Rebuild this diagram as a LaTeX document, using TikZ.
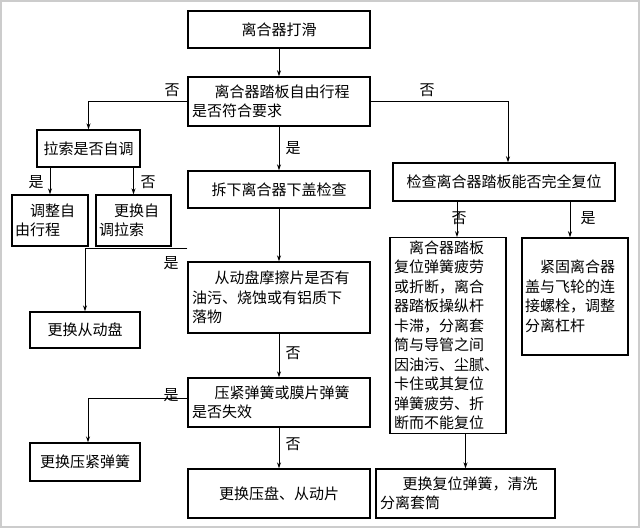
\documentclass[tikz,border=0pt]{standalone}
\usepackage{fontspec}
\setmainfont{Noto Sans CJK SC}
\usetikzlibrary{arrows.meta,positioning,calc}
\tikzset{
  box/.style={draw,line width=1.4pt,inner sep=3pt,font=\fontsize{15}{19.5}\selectfont},
  lbl/.style={font=\fontsize{15}{18}\selectfont,inner sep=1pt},
  flow/.style={line width=1pt,-{Stealth[length=6pt,width=4pt]}}
}
\begin{document}
\begin{tikzpicture}[x=1pt,y=-1pt]
    \useasboundingbox (0,0) rectangle (640,528);
    \draw[gray!40,line width=1.5pt] (1,1) rectangle (639,527);

    % Colonna centrale
    \node[box,minimum width=182pt,minimum height=37pt] (top) at (279,29.5) {离合器打滑};
    \node[box,minimum width=182pt,minimum height=49pt,text width=174pt,align=left] (q1) at (279,101.5)
        {\hspace*{1.5em}离合器踏板自由行程\\是否符合要求};
    \node[box,minimum width=182pt,minimum height=37pt] (chai) at (279,189.5) {拆下离合器下盖检查};
    \node[box,minimum width=182pt,minimum height=71pt,text width=174pt,align=left] (dirt) at (279,297.5)
        {\hspace*{1.5em}从动盘摩擦片是否有\\油污、烧蚀或有铝质下\\落物};
    \node[box,minimum width=182pt,minimum height=49pt,text width=174pt,align=left] (spring) at (279,402.5)
        {\hspace*{1.5em}压紧弹簧或膜片弹簧\\是否失效};
    \node[box,minimum width=182pt,minimum height=49pt] (plate) at (279,493.5) {更换压盘、从动片};

    % Colonna sinistra
    \node[box,minimum width=103pt,minimum height=37pt] (lasuo) at (88.5,148.5) {拉索是否自调};
    \node[box,minimum width=76pt,minimum height=51pt,text width=70pt,align=left] (adj) at (50,220.5)
        {\hspace*{1em}调整自\\由行程};
    \node[box,minimum width=75pt,minimum height=51pt,text width=69pt,align=left] (selfrep) at (133.5,220.5)
        {\hspace*{1em}更换自\\调拉索};
    \node[box,minimum width=110pt,minimum height=36pt] (repdisc) at (85,330) {更换从动盘};
    \node[box,minimum width=110pt,minimum height=38pt] (repspring) at (85,462) {更换压紧弹簧};

    % Colonna destra
    \node[box,minimum width=222pt,minimum height=38pt] (check) at (504,182) {检查离合器踏板能否完全复位};
    \node[box,minimum width=116pt,minimum height=195pt,text width=108pt,align=left] (cause) at (448,335.5)
        {\hspace*{1em}离合器踏板\\复位弹簧疲劳\\或折断，离合\\器踏板操纵杆\\卡滞，分离套\\筒与导管之间\\因油污、尘腻、\\卡住或其复位\\弹簧疲劳、折\\断而不能复位};
    \node[box,minimum width=106pt,minimum height=117pt,text width=100pt,align=left] (fasten) at (575,296.5)
        {\hspace*{1em}紧固离合器\\盖与飞轮的连\\接螺栓，调整\\分离杠杆};
    \node[box,minimum width=179pt,minimum height=49pt,text width=171pt,align=left] (resetsp) at (465.5,493.5)
        {\hspace*{1.5em}更换复位弹簧，清洗\\分离套筒};

    % Connettori
    \draw[flow] (top) -- (q1);
    \draw[flow] (q1.west) -| (lasuo.north);
    \draw[flow] (q1.east) -| ([xshift=4pt]check.north);
    \draw[flow] (q1) -- (chai);
    \draw[flow] (adj.north |- lasuo.south) -- (adj.north);
    \draw[flow] (selfrep.north |- lasuo.south) -- (selfrep.north);
    \draw[flow] (chai) -- (dirt);
    \draw[flow] ([yshift=13pt]dirt.north west) -| (repdisc.north);
    \draw[flow] (dirt) -- (spring);
    \draw[flow] ([yshift=4pt]spring.west) -| ([xshift=3pt]repspring.north);
    \draw[flow] (spring) -- (plate);
    \draw[flow] ([xshift=9pt]cause.north |- check.south) -- ([xshift=9pt]cause.north);
    \draw[flow] ([xshift=-5pt]fasten.north |- check.south) -- ([xshift=-5pt]fasten.north);
    \draw[flow] (resetsp.north |- cause.south) -- (resetsp.north);

    % Etichette
    \node[lbl] (n1) at (172,90) {否};
    \node[lbl] (n2) at (427,90) {否};
    \node[lbl] (y1) at (293,148) {是};
    \node[lbl] (y2) at (36,182) {是};
    \node[lbl] (n3) at (148,182) {否};
    \node[lbl] (y3) at (171,263) {是};
    \node[lbl] (n4) at (293,353) {否};
    \node[lbl] (y4) at (171,395) {是};
    \node[lbl] (n5) at (293,444) {否};
    \node[lbl] (n6) at (459,218) {否};
    \node[lbl] (y5) at (588,218) {是};
\end{tikzpicture}
\end{document}
